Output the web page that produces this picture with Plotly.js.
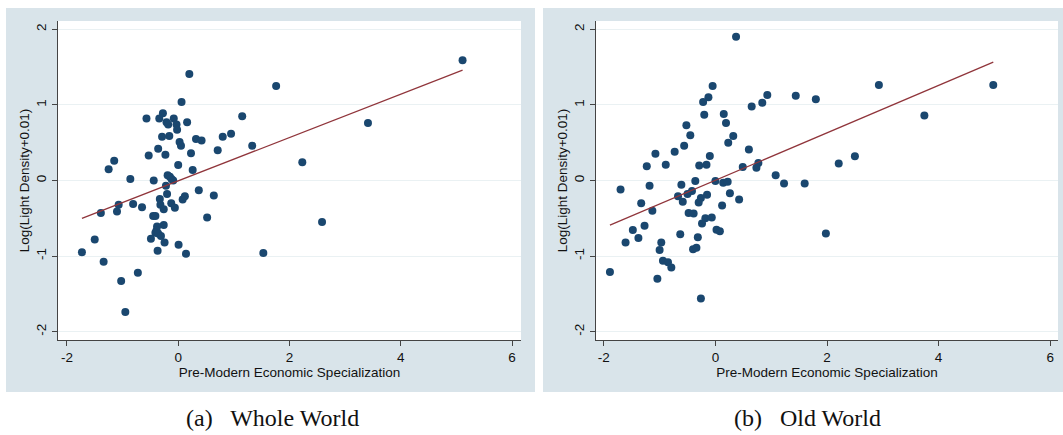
<!DOCTYPE html>
<html>
<head>
<meta charset="utf-8">
<script src="https://cdn.plot.ly/plotly-3.0.1.min.js"></script>
<style>html,body{margin:0;padding:0;background:#fff;}#chart{width:1063px;height:435px;}</style>
</head>
<body>
<div id="chart"></div>
<script>
// Panel (a) Whole World
const wholeX = [0.20,0.06,-0.275,-0.57,-0.34,-0.08,-0.21,-0.18,-0.03,0.16,-0.02,1.15,-0.29,-0.16,0.025,0.05,0.32,0.42,0.80,0.95,1.33,0.71,-0.36,-0.53,-0.23,0.23,0.0,0.26,-1.15,-1.25,-0.86,-0.44,-0.19,-0.15,-0.12,-0.09,-0.22,0.37,0.64,-0.20,-0.33,0.08,0.12,1.76,5.11,3.41,2.23,2.585,1.53,-0.32,-0.26,-0.125,-0.06,-1.07,-1.10,-1.39,-0.81,-0.65,-0.45,-0.41,0.52,-0.26,-0.38,-0.39,-0.41,-0.36,-0.31,-0.49,-0.245,0.007,-0.37,0.14,-1.73,-1.50,-1.34,-1.025,-0.725,-0.95];
const wholeY = [1.41,1.04,0.89,0.82,0.82,0.82,0.77,0.74,0.74,0.77,0.67,0.85,0.58,0.59,0.51,0.46,0.55,0.53,0.58,0.62,0.46,0.40,0.42,0.33,0.34,0.36,0.205,0.14,0.26,0.15,0.02,0.0,0.07,0.05,0.02,0.0,-0.07,-0.13,-0.20,-0.18,-0.245,-0.25,-0.21,1.25,1.59,0.76,0.24,-0.55,-0.96,-0.32,-0.38,-0.30,-0.36,-0.32,-0.41,-0.43,-0.31,-0.355,-0.47,-0.47,-0.49,-0.59,-0.61,-0.66,-0.69,-0.70,-0.735,-0.77,-0.82,-0.85,-0.93,-0.97,-0.95,-0.78,-1.075,-1.33,-1.22,-1.74];
const wholeFitX = [-1.73, 5.11];
const wholeFitY = [-0.50, 1.46];

// Panel (b) Old World
const oldX = [0.37,-0.05,-0.125,-0.22,-0.20,0.15,0.19,0.65,0.84,0.93,1.44,-0.52,-0.45,0.32,0.23,-0.56,0.60,-0.73,-1.075,-1.23,-0.89,-0.10,-0.29,-0.16,0.49,0.77,0.735,1.08,1.23,-1.70,-1.18,-0.61,-0.36,0.0,0.14,0.22,-0.42,-0.50,-0.67,-0.15,-0.26,0.26,0.425,1.80,2.93,4.98,3.745,2.50,2.21,1.60,1.98,-0.585,-0.30,-1.33,-1.13,-0.48,-0.39,0.12,-0.18,-0.065,-0.24,-1.48,-1.27,-1.38,-1.61,-0.63,0.02,0.08,-0.315,-0.97,-1.00,-0.40,-0.34,-0.94,-0.85,-0.79,-1.89,-1.04,-0.26];
const oldY = [1.90,1.25,1.10,1.04,0.87,0.88,0.76,0.98,1.03,1.13,1.12,0.73,0.60,0.59,0.50,0.46,0.41,0.38,0.355,0.19,0.21,0.325,0.20,0.21,0.18,0.23,0.17,0.07,-0.04,-0.12,-0.07,-0.055,-0.007,-0.007,-0.03,-0.015,-0.14,-0.18,-0.21,-0.19,-0.23,-0.17,-0.25,1.075,1.265,1.265,0.86,0.32,0.225,-0.04,-0.70,-0.28,-0.29,-0.30,-0.40,-0.43,-0.435,-0.33,-0.50,-0.49,-0.57,-0.655,-0.60,-0.76,-0.82,-0.71,-0.65,-0.67,-0.75,-0.82,-0.92,-0.91,-0.89,-1.06,-1.08,-1.15,-1.21,-1.30,-1.56];
const oldFitX = [-1.89, 4.98];
const oldFitY = [-0.59, 1.565];

const xTicks = [-2, 0, 2, 4, 6];
const xTickText = ['-2', '0', '2', '4', '6'];
const yTicks = [-2, -1, 0, 1, 2];
const yTickText = ['-2', '-1', '0', '1', '2'];
const xTitle = 'Pre-Modern Economic Specialization';
const yTitle = 'Log(Light Density+0.01)';
const captions = ['(a)\u00a0\u00a0 Whole World', '(b)\u00a0\u00a0 Old World'];

const W = 1063, H = 435;
const navy = '#1a476f', maroon = '#90353b', panelBg = '#d9e4ea', gridCol = '#eaf1f3', axisCol = '#444444';
const tickFont = {family: 'Liberation Sans, Arial, sans-serif', size: 13.5, color: '#111'};

function px(x){ return x / W; }
function py(y){ return 1 - y / H; }

const traces = [
  {x: wholeX, y: wholeY, type: 'scatter', mode: 'markers', marker: {color: navy, size: 8}, xaxis: 'x', yaxis: 'y', hoverinfo: 'skip'},
  {x: wholeFitX, y: wholeFitY, type: 'scatter', mode: 'lines', line: {color: maroon, width: 1.3}, xaxis: 'x', yaxis: 'y', hoverinfo: 'skip'},
  {x: oldX, y: oldY, type: 'scatter', mode: 'markers', marker: {color: navy, size: 8}, xaxis: 'x2', yaxis: 'y2', hoverinfo: 'skip'},
  {x: oldFitX, y: oldFitY, type: 'scatter', mode: 'lines', line: {color: maroon, width: 1.3}, xaxis: 'x2', yaxis: 'y2', hoverinfo: 'skip'}
];

function xAxis(domain, range, anchor){
  return {domain: domain, range: range, anchor: anchor, tickmode: 'array', tickvals: xTicks, ticktext: xTickText, ticks: 'outside', ticklen: 5, tickcolor: axisCol,
    showline: true, linecolor: axisCol, linewidth: 1.2, showgrid: false, zeroline: false, tickfont: tickFont,
    title: {text: xTitle, font: tickFont, standoff: 1}};
}
function yAxis(domain, anchor){
  return {domain: domain, range: [-2.11, 2.11], anchor: anchor, tickmode: 'array', tickvals: yTicks, ticktext: yTickText, ticks: 'outside', ticklen: 5, tickcolor: axisCol,
    tickangle: -90, showline: true, linecolor: axisCol, linewidth: 1.2, showgrid: true, gridcolor: gridCol, gridwidth: 1,
    zeroline: false, tickfont: tickFont, title: {text: yTitle, font: tickFont, standoff: 1}};
}

const yDom = [py(340), py(21)];
function plotRect(xr, yr){
  return {type: 'rect', xref: xr + ' domain', yref: yr + ' domain', x0: 0, x1: 1, y0: 0, y1: 1, fillcolor: '#ffffff', line: {width: 0}, layer: 'below'};
}
const layout = {
  width: W, height: H, margin: {l: 0, r: 0, t: 0, b: 0},
  paper_bgcolor: '#ffffff', plot_bgcolor: '#ffffff', showlegend: false,
  xaxis: xAxis([px(58), px(521)], [-2.16, 6.16], 'y'),
  yaxis: yAxis(yDom, 'x'),
  xaxis2: xAxis([px(596), px(1058)], [-2.14, 6.14], 'y2'),
  yaxis2: yAxis(yDom, 'x2'),
  shapes: [
    {type: 'rect', xref: 'paper', yref: 'paper', x0: px(6), x1: px(535), y0: py(392), y1: py(8), fillcolor: panelBg, line: {width: 0}, layer: 'below'},
    {type: 'rect', xref: 'paper', yref: 'paper', x0: px(543), x1: px(1063), y0: py(392), y1: py(8), fillcolor: panelBg, line: {width: 0}, layer: 'below'},
    plotRect('x', 'y'),
    plotRect('x2', 'y2')
  ],
  annotations: [
    {text: captions[0], xref: 'paper', yref: 'paper', x: px(272), y: py(418), showarrow: false, xanchor: 'center', yanchor: 'middle',
     font: {family: 'Liberation Serif, Times New Roman, serif', size: 24, color: '#111'}},
    {text: captions[1], xref: 'paper', yref: 'paper', x: px(807), y: py(418), showarrow: false, xanchor: 'center', yanchor: 'middle',
     font: {family: 'Liberation Serif, Times New Roman, serif', size: 24, color: '#111'}}
  ]
};

Plotly.newPlot('chart', traces, layout, {staticPlot: true, displayModeBar: false});
</script>
</body>
</html>
